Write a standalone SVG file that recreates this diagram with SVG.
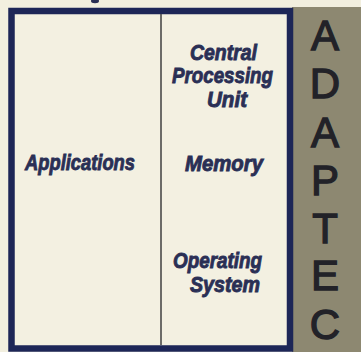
<svg xmlns="http://www.w3.org/2000/svg" width="361" height="352" viewBox="0 0 361 352">
  <style>
    .lbl { font-family: "Liberation Sans", Arial, sans-serif; font-weight: bold; font-style: italic; font-size: 22px; fill: #2a2f55; stroke: #2a2f55; stroke-width: 0.9px; }
    .side { font-family: "Liberation Sans", Arial, sans-serif; font-size: 42px; fill: #222228; stroke: #222228; stroke-width: 1.3px; text-anchor: middle; }
  </style>
  <rect x="0" y="0" width="361" height="352" fill="#f2efdf"/>
  <ellipse cx="95" cy="1" rx="4" ry="2.2" fill="#2a2f55"/>
  <g id="sidebar">
    <rect x="292" y="7" width="69" height="345" fill="#8d8871"/>
    <text class="side" x="325" y="50">A</text>
    <text class="side" x="325" y="98">D</text>
    <text class="side" x="325" y="147">A</text>
    <text class="side" x="325" y="195">P</text>
    <text class="side" x="325" y="243">T</text>
    <text class="side" x="325" y="290">E</text>
    <text class="side" x="325" y="339">C</text>
  </g>
  <g id="frame">
    <rect x="11.5" y="11" width="278.5" height="337.5" fill="#f3f0e1" stroke="#1d2657" stroke-width="6.5"/>
  </g>
  <g id="connectors">
    <line x1="161" y1="14" x2="161" y2="345" stroke="#4a4a4a" stroke-width="1.6"/>
  </g>
  <g id="applications">
    <text class="lbl" x="25" y="170" textLength="110" lengthAdjust="spacingAndGlyphs">Applications</text>
  </g>
  <g id="cpu">
    <text class="lbl" x="190" y="60" textLength="67" lengthAdjust="spacingAndGlyphs">Central</text>
    <text class="lbl" x="172" y="83" textLength="101" lengthAdjust="spacingAndGlyphs">Processing</text>
    <text class="lbl" x="207" y="107" textLength="40" lengthAdjust="spacingAndGlyphs">Unit</text>
  </g>
  <g id="memory">
    <text class="lbl" x="185" y="171" textLength="78" lengthAdjust="spacingAndGlyphs">Memory</text>
  </g>
  <g id="os">
    <text class="lbl" x="173" y="268" textLength="89" lengthAdjust="spacingAndGlyphs">Operating</text>
    <text class="lbl" x="190" y="292" textLength="70" lengthAdjust="spacingAndGlyphs">System</text>
  </g>
</svg>
